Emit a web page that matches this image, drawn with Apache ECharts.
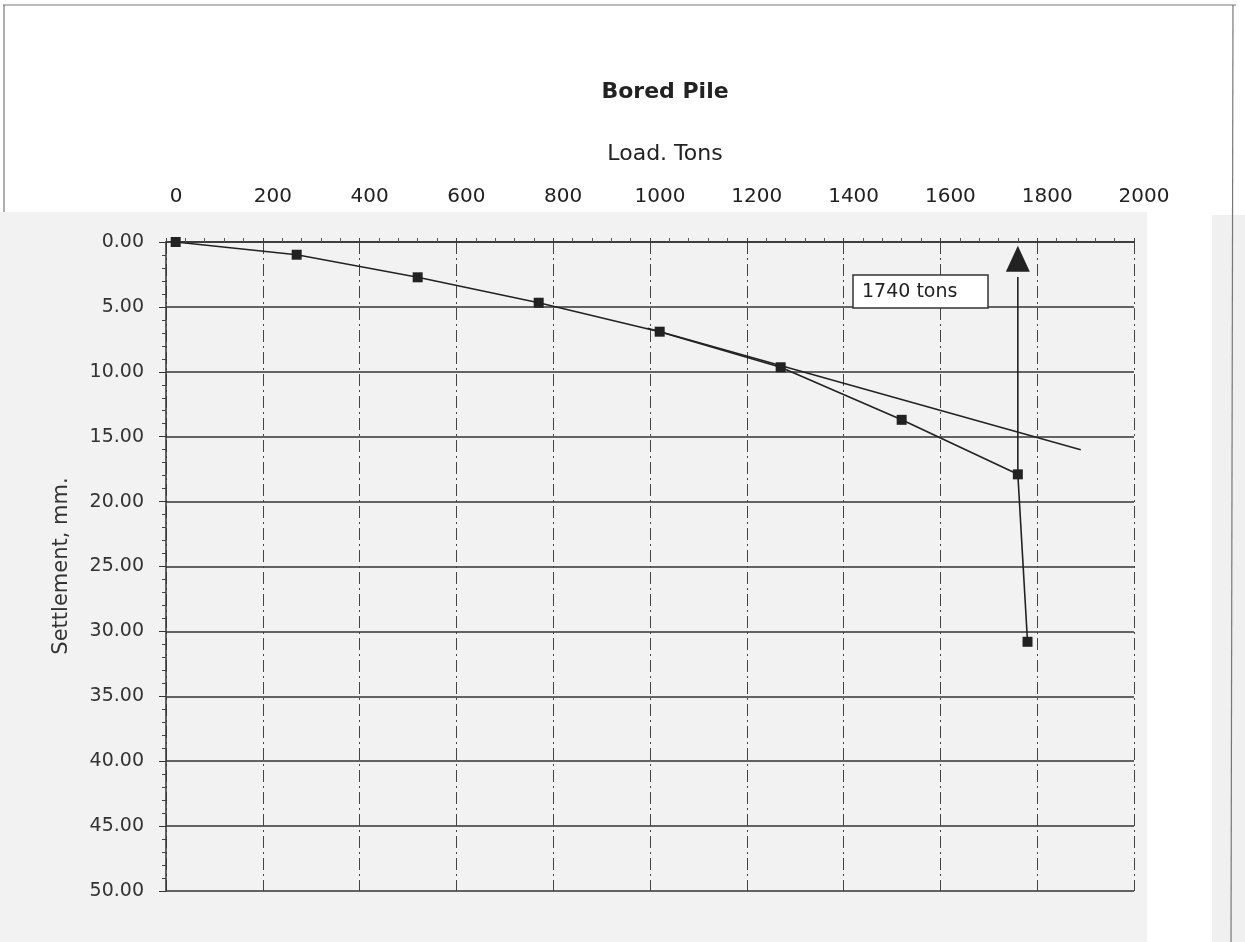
<!DOCTYPE html>
<html>
<head>
<meta charset="utf-8">
<script src="https://cdn.jsdelivr.net/npm/echarts@6/dist/echarts.min.js"></script>
<style>
html,body{margin:0;padding:0;background:#fff;}
#chart{width:1245px;height:942px;}
</style>
</head>
<body>
<div id="chart"></div>
<script>
// ---- data ----
const loads = [0, 250, 500, 750, 1000, 1250, 1500, 1740, 1760];
const settlements = [0, 0.98, 2.72, 4.68, 6.91, 9.65, 13.7, 17.9, 30.8];
const trendLoads = [975, 1870];
const trendSettlements = [6.65, 16.0];
const arrowLoad = 1740;
const arrowHeadSettlement = 1.3;
const arrowShaft = [2.7, 17.9];
const xTickLabels = ['0','200','400','600','800','1000','1200','1400','1600','1800','2000'];
const yTickLabels = ['0.00','5.00','10.00','15.00','20.00','25.00','30.00','35.00','40.00','45.00','50.00'];
const titleText = 'Bored Pile';
const xAxisTitle = 'Load. Tons';
const yAxisTitle = 'Settlement, mm.';
const annotationText = '1740 tons';

const FONT = 'DejaVu Sans';
const INK = '#222';

const chart = echarts.init(document.getElementById('chart'), null, {renderer: 'canvas'});

const curve = loads.map((x, i) => [x, settlements[i]]);
const trend = trendLoads.map((x, i) => [x, trendSettlements[i]]);
const shaft = arrowShaft.map(v => [arrowLoad, v]);

const option = {
  backgroundColor: '#fff',
  animation: false,
  grid: [
    {left: 166, top: 242, width: 968, height: 649, containLabel: false},
    {left: 176, top: 242, width: 968, height: 649, containLabel: false}
  ],
  xAxis: [
    {
      gridIndex: 0, type: 'value', position: 'top', min: -20, max: 1980, interval: 200,
      axisLine: {show: true, onZero: false, lineStyle: {color: '#333', width: 1.6}},
      axisTick: {show: true, length: 4, lineStyle: {color: '#444'}},
      minorTick: {show: true, splitNumber: 5, length: 4, lineStyle: {color: '#555'}},
      axisLabel: {show: false},
      splitLine: {show: true, lineStyle: {color: '#444', width: 1, type: [12, 4, 2, 4]}}
    },
    {
      gridIndex: 1, type: 'value', position: 'top', min: 0, max: 2000, interval: 200,
      axisLine: {show: false, onZero: false}, axisTick: {show: false}, splitLine: {show: false},
      axisLabel: {
        show: true, margin: 35, fontFamily: FONT, fontSize: 20, color: INK,
        formatter: (v) => xTickLabels[Math.round(v / 200)]
      }
    }
  ],
  yAxis: [
    {
      gridIndex: 0, type: 'value', inverse: true, min: 0, max: 50, interval: 5,
      axisLine: {show: true, onZero: false, lineStyle: {color: '#333', width: 1.5}},
      axisTick: {show: true, length: 7, lineStyle: {color: '#333'}},
      minorTick: {show: true, splitNumber: 5, length: 4, lineStyle: {color: '#444'}},
      axisLabel: {
        margin: 22, fontFamily: FONT, fontSize: 19, color: '#333',
        formatter: (v) => yTickLabels[Math.round(v / 5)]
      },
      splitLine: {show: true, lineStyle: {color: '#333', width: 1.6}}
    },
    {gridIndex: 1, type: 'value', inverse: true, min: 0, max: 50, show: false,
     axisLine: {show: false, onZero: false}}
  ],
  graphic: [
    {type: 'rect', z: -10, shape: {x: 0, y: 212, width: 1147, height: 730}, style: {fill: '#f2f2f2'}},
    {type: 'rect', z: -10, shape: {x: 1212, y: 215, width: 33, height: 727}, style: {fill: '#f0f0f0'}},
    {type: 'line', z: -5, shape: {x1: 3, y1: 5, x2: 1236, y2: 5}, style: {stroke: '#777', lineWidth: 1.2}},
    {type: 'line', z: -5, shape: {x1: 4, y1: 5, x2: 4, y2: 212}, style: {stroke: '#777', lineWidth: 1.2}},
    {type: 'line', z: -5, shape: {x1: 1233, y1: 5, x2: 1231, y2: 942}, style: {stroke: '#777', lineWidth: 1.2}},
    {type: 'text', x: 665, y: 92, style: {text: titleText, font: 'bold 22px "DejaVu Sans"', fill: INK, textAlign: 'center', textVerticalAlign: 'middle'}},
    {type: 'text', x: 665, y: 154, style: {text: xAxisTitle, font: '22px "DejaVu Sans"', fill: INK, textAlign: 'center', textVerticalAlign: 'middle'}},
    {type: 'text', x: 62, y: 566, rotation: Math.PI / 2, style: {text: yAxisTitle, font: '21px "DejaVu Sans"', fill: '#333', textAlign: 'center', textVerticalAlign: 'middle'}},
    {type: 'rect', z: 50, shape: {x: 853, y: 275, width: 135, height: 33}, style: {fill: '#fff', stroke: '#333', lineWidth: 1.5}},
    {type: 'text', z: 51, x: 862, y: 292, style: {text: annotationText, font: '19px "DejaVu Sans"', fill: INK, textAlign: 'left', textVerticalAlign: 'middle'}}
  ],
  series: [
    {
      type: 'line', xAxisIndex: 0, yAxisIndex: 0, data: curve,
      symbol: 'rect', symbolSize: 10, showSymbol: true,
      lineStyle: {color: INK, width: 1.6}, itemStyle: {color: INK}, z: 5
    },
    {
      type: 'line', xAxisIndex: 0, yAxisIndex: 0, data: trend, showSymbol: false, symbol: 'none',
      lineStyle: {color: INK, width: 1.6}, z: 4
    },
    {
      type: 'line', xAxisIndex: 0, yAxisIndex: 0, data: shaft, showSymbol: false, symbol: 'none',
      lineStyle: {color: INK, width: 1.6}, z: 4
    },
    {
      type: 'scatter', xAxisIndex: 0, yAxisIndex: 0, data: [[arrowLoad, arrowHeadSettlement]],
      symbol: 'triangle', symbolSize: [24, 26], itemStyle: {color: INK, opacity: 1}, z: 6
    }
  ]
};
chart.setOption(option);
</script>
</body>
</html>
